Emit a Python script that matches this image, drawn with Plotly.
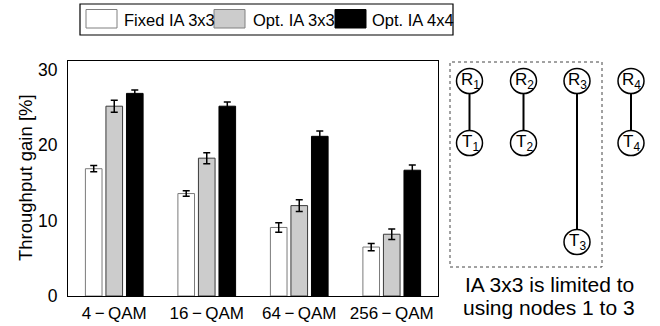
import plotly.graph_objects as go

categories = ["4\u2009−\u2009QAM", "16\u2009−\u2009QAM", "64\u2009−\u2009QAM", "256\u2009−\u2009QAM"]
series_names = ["Fixed IA 3x3", "Opt. IA 3x3", "Opt. IA 4x4"]
fixed_ia3 = [16.9, 13.6, 9.1, 6.5]
opt_ia3 = [25.2, 18.3, 12.0, 8.2]
opt_ia4 = [26.9, 25.2, 21.2, 16.7]
err_fixed_ia3 = [0.42, 0.37, 0.62, 0.48]
err_opt_ia3 = [0.8, 0.73, 0.78, 0.7]
err_opt_ia4 = [0.45, 0.57, 0.7, 0.7]
y_ticks = [0, 10, 20, 30]
node_ids = ["1", "2", "3", "4"]
note_lines = ["IA 3x3 is limited to", "using nodes 1 to 3"]

W, H = 660, 326
ML, MR, MT, MB = 68, 222, 61, 30
PW = W - ML - MR
PH = H - MT - MB
FONT = "Liberation Sans, Arial, Helvetica, sans-serif"


def px(x):
    return (x - ML) / PW


def py(y):
    return (H - MB - y) / PH


fills = ["#ffffff", "#cccccc", "#000000"]
edges = ["#7a7a7a", "#3a3a3a", "#000000"]
values = [fixed_ia3, opt_ia3, opt_ia4]
errors = [err_fixed_ia3, err_opt_ia3, err_opt_ia4]

fig = go.Figure()
for name, vals, errs, fc, ec in zip(series_names, values, errors, fills, edges):
    fig.add_trace(go.Bar(
        x=categories, y=vals, name=name, showlegend=False,
        marker=dict(color=fc, line=dict(color=ec, width=1)),
        error_y=dict(type="data", array=errs, visible=True,
                     color="#000000", thickness=1.5, width=3.5),
    ))

shapes = []
annotations = []

# Manual legend (large swatches as in the reference)
shapes.append(dict(type="rect", xref="paper", yref="paper",
                   x0=px(80), x1=px(453), y0=py(35), y1=py(4),
                   line=dict(color="#000000", width=1.2), fillcolor="#ffffff"))
sw_x = [86, 214, 335]
tx_x = [122, 251, 370]
for i, name in enumerate(series_names):
    shapes.append(dict(type="rect", xref="paper", yref="paper",
                       x0=px(sw_x[i]), x1=px(sw_x[i] + 31), y0=py(28), y1=py(9.5),
                       line=dict(color="#808080" if i < 2 else "#000000", width=1),
                       fillcolor=fills[i]))
    annotations.append(dict(xref="paper", yref="paper", x=px(tx_x[i]), y=py(19.5),
                            text=name, showarrow=False, xanchor="left", yanchor="middle",
                            font=dict(family=FONT, size=16.5, color="#000000")))

# Y axis title
annotations.append(dict(xref="paper", yref="paper", x=px(25), y=py(178),
                        text="Throughput gain [%]", textangle=-90, showarrow=False,
                        xanchor="center", yanchor="middle",
                        font=dict(family=FONT, size=18.5, color="#000000")))

# Node diagram
shapes.append(dict(type="rect", xref="paper", yref="paper",
                   x0=px(450), x1=px(602), y0=py(267), y1=py(62),
                   line=dict(color="#444444", width=1, dash="dot")))
node_x = [469.5, 523.5, 577, 631]
r_y = 81
t_y = [143, 143, 242, 143]
rx, ry = 13, 12.5
for i, nid in enumerate(node_ids):
    cx = node_x[i]
    shapes.append(dict(type="line", xref="paper", yref="paper",
                       x0=px(cx), x1=px(cx), y0=py(r_y + ry), y1=py(t_y[i] - ry),
                       line=dict(color="#000000", width=2)))
    for cy, letter in [(r_y, "R"), (t_y[i], "T")]:
        shapes.append(dict(type="circle", xref="paper", yref="paper",
                           x0=px(cx - rx), x1=px(cx + rx), y0=py(cy + ry), y1=py(cy - ry),
                           line=dict(color="#000000", width=1.5), fillcolor="#ffffff"))
        annotations.append(dict(xref="paper", yref="paper", x=px(cx + 0.5), y=py(cy),
                                text=f"{letter}<sub>{nid}</sub>", showarrow=False,
                                xanchor="center", yanchor="middle",
                                font=dict(family=FONT, size=17, color="#000000")))

for k, line in enumerate(note_lines):
    annotations.append(dict(xref="paper", yref="paper", x=px(549), y=py(284 + 23 * k),
                            text=line, showarrow=False, xanchor="center", yanchor="middle",
                            font=dict(family=FONT, size=21, color="#000000")))

fig.update_layout(
    width=W, height=H,
    margin=dict(l=ML, r=MR, t=MT, b=MB, pad=0, autoexpand=False),
    paper_bgcolor="#ffffff", plot_bgcolor="#ffffff",
    barmode="group", bargap=0.334, bargroupgap=0.19,
    font=dict(family=FONT, color="#000000"),
    shapes=shapes, annotations=annotations,
    xaxis=dict(range=[-0.5, 3.5], showline=True, mirror=True, linecolor="#000000",
               linewidth=1, ticks="", showgrid=False, zeroline=False, automargin=False,
               tickfont=dict(family=FONT, size=17, color="#000000"),
               ticklabelstandoff=2),
    yaxis=dict(range=[0, 31.2], tickvals=y_ticks, showline=True, mirror=True,
               linecolor="#000000", linewidth=1, ticks="", showgrid=False, automargin=False,
               zeroline=False, tickfont=dict(family=FONT, size=17.5, color="#000000"),
               ticklabelstandoff=6),
)

fig.write_html("out.html", config={"displayModeBar": False},
               post_script="document.body.style.margin='0';")
